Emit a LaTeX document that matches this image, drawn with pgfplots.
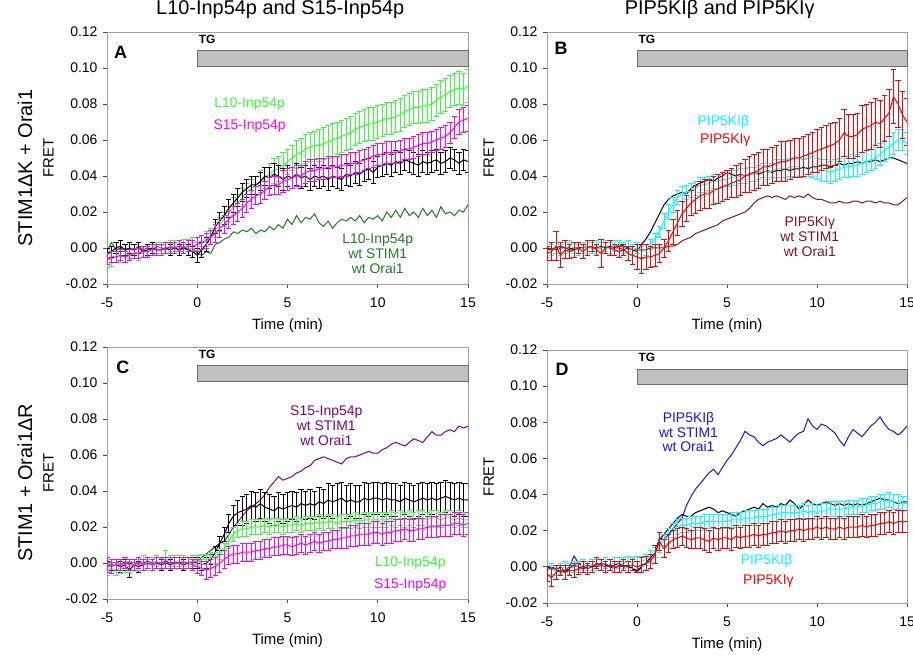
\documentclass[border=0pt]{standalone}
\usepackage{fontspec}
\setmainfont{Liberation Sans}
\usepackage{pgfplots}
\usepackage{pgfplotstable}
\pgfplotsset{compat=1.18}
\definecolor{cLime}{RGB}{51,255,51}
\definecolor{cMag}{RGB}{255,0,255}
\definecolor{cDkGreen}{RGB}{34,122,34}
\definecolor{cCyan}{RGB}{0,255,255}
\definecolor{cRed}{RGB}{255,0,0}
\definecolor{cMaroon}{RGB}{128,20,20}
\definecolor{cPurple}{RGB}{128,0,128}
\definecolor{cBlue}{RGB}{20,20,240}
\definecolor{cBarFill}{RGB}{192,192,192}
\definecolor{cBarLine}{RGB}{110,110,110}

% values in units of 0.001 FRET
\pgfplotstableread{
t k ke g ge m me d
-5.00 -3 3 -7 4 -6 3 -2
-4.75 -2 3 -6 4 -5 3 3
-4.50 0 3 -5 3 -5 3 -1
-4.25 1 3 -5 3 -4 3 0
-4.00 -1 3 -4 4 -5 3 -1
-3.75 0 3 -3 3 -4 3 0
-3.50 -1 3 -3 3 -3 3 -1
-3.25 0 3 -2 5 -3 3 1
-3.00 -2 3 -2 3 -2 3 -1
-2.75 -1 3 -1 3 -2 3 0
-2.50 0 3 -1 3 -1 3 -1
-2.25 -1 3 0 3 -1 3 1
-2.00 -1 3 0 3 -1 3 0
-1.75 0 3 0 3 0 3 -1
-1.50 -1 3 1 3 0 3 1
-1.25 0 3 1 3 0 3 0
-1.00 -1 3 1 3 1 3 -1
-0.75 0 3 2 3 0 3 1
-0.50 -1 3 2 3 1 3 -1
-0.25 -2 3 3 3 1 3 0
0.00 -4 4 3 3 2 4 -3
0.25 -1 4 4 3 3 4 -4
0.50 2 4 5 4 4 4 -2
0.75 6 4 7 4 6 4 -3
1.00 12 4 10 4 8 5 2
1.25 15 5 13 4 11 5 3
1.50 18 5 16 4 13 5 5
1.75 22 5 19 4 16 5 6
2.00 25 5 23 5 18 5 9
2.25 28 5 25 5 20 5 8
2.50 31 5 28 5 22 5 10
2.75 33 5 31 5 25 5 9
3.00 35 5 33 5 27 5 11
3.25 35 5 35 5 29 5 8
3.50 37 5 37 6 30 5 10
3.75 40 5 39 6 32 5 9
4.00 39 6 41 6 34 5 12
4.25 41 6 43 7 35 5 10
4.50 40 6 44 7 35 5 13
4.75 38 6 46 7 37 6 11
5.00 40 6 48 7 38 6 16
5.25 39 6 50 7 39 6 13
5.50 41 6 52 8 40 6 18
5.75 39 6 53 8 40 6 14
6.00 40 6 55 8 42 6 17
6.25 38 6 56 8 43 6 16
6.50 40 6 57 8 43 6 19
6.75 39 6 57 9 44 6 14
7.00 40 6 58 9 44 6 12
7.25 38 6 59 9 45 6 15
7.50 40 6 60 9 45 6 11
7.75 39 6 61 9 45 6 14
8.00 38 6 62 9 46 6 16
8.25 41 6 63 9 46 6 15
8.50 40 6 64 9 47 6 17
8.75 42 6 66 9 47 6 15
9.00 41 6 67 9 48 6 18
9.25 43 6 68 9 49 6 14
9.50 44 6 69 9 50 6 17
9.75 42 6 69 9 51 6 16
10.00 45 6 70 9 52 6 18
10.25 46 6 71 9 52 6 15
10.50 47 6 72 9 53 6 20
10.75 46 6 72 9 53 6 17
11.00 48 6 73 9 53 6 21
11.25 47 6 74 9 54 6 17
11.50 49 6 76 9 55 6 22
11.75 48 6 77 9 55 6 18
12.00 47 6 78 9 56 6 20
12.25 46 6 78 9 57 6 17
12.50 48 6 79 9 58 6 22
12.75 47 6 79 9 58 6 18
13.00 48 6 80 9 59 6 21
13.25 49 6 82 9 60 6 17
13.50 47 6 84 9 61 6 23
13.75 48 6 85 9 62 6 19
14.00 50 6 87 9 64 6 20
14.25 49 6 88 9 67 6 18
14.50 47 6 89 9 70 7 21
14.75 49 6 88 9 71 7 20
15.00 48 6 90 9 72 7 24
}\tA

\pgfplotstableread{
t k c ce r re w
-5.00 0 -2 3 -3 4 -1
-4.75 -1 -1 3 -2 5 0
-4.50 0 0 3 1 8 -1
-4.25 1 -1 3 -4 7 0
-4.00 0 0 3 -1 5 0
-3.75 0 1 3 -2 4 -1
-3.50 -1 0 3 -1 4 0
-3.25 0 -1 3 0 3 0
-3.00 0 0 3 -2 4 0
-2.75 1 1 3 0 4 1
-2.50 0 0 3 1 3 0
-2.25 0 1 3 -1 3 0
-2.00 1 0 3 -3 8 0
-1.75 0 1 3 0 3 1
-1.50 1 0 3 0 4 0
-1.25 0 1 3 -1 3 0
-1.00 2 1 3 -2 3 0
-0.75 1 0 3 -1 3 -1
-0.50 0 1 3 -3 4 0
-0.25 -1 -1 3 -4 5 -1
0.00 -2 0 3 -5 7 -1
0.25 2 -2 3 -6 8 -1
0.50 5 -1 3 -5 7 -1
0.75 9 2 3 -5 6 0
1.00 14 5 3 -4 6 0
1.25 19 9 3 -3 5 0
1.50 24 15 4 0 5 0
1.75 27 20 4 4 6 1
2.00 29 24 4 9 7 1
2.25 30 28 4 14 7 2
2.50 31 30 4 19 7 4
2.75 30 31 4 22 7 5
3.00 33 32 4 25 7 6
3.25 35 33 4 27 8 8
3.50 36 35 4 29 8 9
3.75 37 35 4 30 8 10
4.00 38 36 4 30 8 11
4.25 37 37 4 32 8 12
4.50 39 37 4 33 8 13
4.75 40 38 4 34 8 15
5.00 42 38 4 35 8 16
5.25 41 39 4 36 8 17
5.50 40 39 4 37 9 18
5.75 41 40 4 38 9 19
6.00 40 40 4 40 9 20
6.25 41 41 4 41 10 22
6.50 42 41 4 42 10 25
6.75 41 42 4 43 10 27
7.00 42 43 4 45 10 28
7.25 43 42 4 45 10 29
7.50 42 43 4 46 10 28
7.75 43 44 5 47 10 29
8.00 43 44 5 48 11 28
8.25 44 44 5 48 11 27
8.50 43 45 5 49 11 29
8.75 44 45 5 50 11 28
9.00 44 45 5 50 11 29
9.25 45 44 5 51 11 28
9.50 44 45 5 52 11 30
9.75 45 45 6 53 11 28
10.00 45 44 6 54 12 27
10.25 46 43 6 55 12 27
10.50 46 43 6 56 12 26
10.75 45 42 6 57 12 25
11.00 46 43 6 58 12 25
11.25 47 44 6 60 12 26
11.50 46 45 6 64 13 25
11.75 47 45 6 62 12 25
12.00 47 46 6 62 12 26
12.25 48 46 6 63 12 26
12.50 47 47 6 66 13 25
12.75 48 48 6 67 13 26
13.00 48 49 6 68 13 26
13.25 49 50 6 70 13 25
13.50 48 52 6 69 13 26
13.75 49 54 6 72 13 25
14.00 50 56 6 75 13 25
14.25 50 58 6 84 15 24
14.50 49 60 6 80 13 24
14.75 48 60 6 74 13 26
15.00 47 58 6 70 13 28
}\tB

\pgfplotstableread{
t p k ke g ge m me
-5.00 0 -2 3 -4 3 -1 4
-4.75 0 -1 3 -3 3 -2 4
-4.50 0 -1 3 -4 3 -1 3
-4.25 1 -2 3 -3 3 -1 3
-4.00 0 -1 3 -2 3 0 3
-3.75 0 -4 4 -2 3 -1 3
-3.50 0 -1 3 -1 3 -1 3
-3.25 0 -2 3 -1 3 0 3
-3.00 0 -1 3 0 4 -1 3
-2.75 1 0 3 -1 3 0 3
-2.50 0 -1 3 0 3 -1 3
-2.25 0 0 3 1 3 0 3
-2.00 0 -1 3 0 3 0 3
-1.75 1 0 3 2 5 0 3
-1.50 0 -1 3 1 3 0 3
-1.25 0 0 3 1 3 0 3
-1.00 0 0 3 1 3 0 3
-0.75 1 -1 3 1 3 0 3
-0.50 0 0 3 0 3 0 3
-0.25 1 0 3 1 3 -1 3
0.00 1 0 3 1 3 -2 4
0.25 3 -1 3 2 3 -3 4
0.50 5 0 3 2 3 -4 5
0.75 7 2 3 3 3 -3 5
1.00 9 6 3 3 3 -2 5
1.25 11 11 4 5 3 0 5
1.50 12 16 4 8 3 2 5
1.75 16 22 5 12 4 4 5
2.00 20 26 6 16 4 5 5
2.25 23 28 7 18 4 5 5
2.50 26 29 8 19 4 6 5
2.75 29 30 8 19 4 6 5
3.00 31 32 8 20 4 6 5
3.25 33 31 8 20 4 7 5
3.50 35 33 8 20 4 7 5
3.75 38 31 8 21 4 8 5
4.00 42 30 8 20 4 8 5
4.25 45 29 8 21 4 9 5
4.50 48 31 8 21 4 9 5
4.75 46 30 8 20 4 10 5
5.00 47 31 8 21 4 10 5
5.25 48 32 8 21 4 9 5
5.50 50 31 8 22 4 10 5
5.75 51 33 8 21 4 11 5
6.00 53 32 8 22 4 10 5
6.25 54 33 8 22 4 11 5
6.50 57 32 8 22 4 12 5
6.75 58 34 8 23 4 11 5
7.00 59 33 8 22 4 12 5
7.25 58 35 9 23 4 12 5
7.50 57 34 9 23 4 13 5
7.75 56 35 9 22 4 13 5
8.00 55 36 9 23 4 14 6
8.25 58 34 9 23 4 14 6
8.50 59 35 9 23 4 15 6
8.75 59 34 9 24 4 15 6
9.00 60 34 9 23 4 16 6
9.25 61 36 9 24 4 16 6
9.50 62 35 9 24 4 16 6
9.75 61 36 9 24 4 17 6
10.00 61 36 9 24 4 17 6
10.25 63 35 9 24 4 16 6
10.50 64 36 9 24 4 17 6
10.75 66 35 9 25 4 17 6
11.00 67 35 9 24 4 18 6
11.25 66 34 9 25 4 18 6
11.50 65 36 9 24 4 19 6
11.75 67 35 9 25 4 18 6
12.00 69 34 9 24 4 18 6
12.25 68 35 9 25 4 19 6
12.50 67 36 9 25 4 19 6
12.75 70 35 9 24 4 20 6
13.00 73 36 9 25 4 20 6
13.25 71 35 9 25 4 20 6
13.50 71 36 9 24 4 21 6
13.75 73 37 9 25 4 21 6
14.00 74 36 9 25 4 21 6
14.25 73 35 9 24 4 22 6
14.50 76 36 9 25 4 22 6
14.75 75 35 9 24 4 21 6
15.00 76 35 9 24 4 22 6
}\tC

\pgfplotstableread{
t b k c ce r re
-5.00 -2 0 -2 3 -4 4
-4.75 0 -1 -1 3 -6 5
-4.50 -1 -2 -2 3 -3 4
-4.25 -3 0 -1 3 -2 3
-4.00 -2 -3 0 3 -3 4
-3.75 0 -1 -1 3 -2 3
-3.50 6 1 0 3 -2 4
-3.25 2 0 0 3 -1 3
-3.00 0 -1 1 3 0 3
-2.75 1 0 0 3 -1 3
-2.50 0 1 1 3 0 3
-2.25 1 0 1 3 2 3
-2.00 2 1 1 3 1 3
-1.75 1 2 2 3 0 3
-1.50 0 0 1 3 1 3
-1.25 -1 1 2 3 0 3
-1.00 1 2 2 3 0 3
-0.75 0 0 2 3 1 3
-0.50 0 1 3 3 0 3
-0.25 -1 -1 2 3 1 3
0.00 -3 -2 3 3 0 3
0.25 0 0 3 3 1 4
0.50 2 2 4 3 2 4
0.75 5 5 6 3 3 4
1.00 8 8 8 3 7 5
1.25 16 15 11 3 14 5
1.50 15 18 15 3 10 5
1.75 18 21 17 4 13 5
2.00 21 24 20 4 15 5
2.25 24 27 22 4 16 5
2.50 27 29 23 4 17 5
2.75 34 28 23 4 16 5
3.00 39 28 24 4 15 5
3.25 43 30 24 4 16 6
3.50 46 31 24 4 16 6
3.75 49 32 25 4 15 6
4.00 52 33 25 4 14 6
4.25 54 32 25 4 16 6
4.50 51 30 25 4 15 6
4.75 55 31 25 4 16 6
5.00 59 30 25 4 16 6
5.25 62 29 26 4 15 6
5.50 66 28 26 4 17 6
5.75 70 30 26 4 16 6
6.00 75 31 27 4 17 6
6.25 73 32 27 4 17 6
6.50 72 33 27 4 18 6
6.75 69 32 28 4 17 6
7.00 67 35 28 4 18 6
7.25 69 33 28 4 18 6
7.50 70 34 29 4 19 6
7.75 71 33 29 4 19 6
8.00 73 35 30 4 20 6
8.25 71 34 30 4 19 6
8.50 69 37 30 4 20 6
8.75 72 35 30 4 20 6
9.00 74 32 30 4 21 6
9.25 75 34 31 4 20 6
9.50 82 37 30 4 21 6
9.75 78 35 31 4 21 6
10.00 76 34 30 4 22 6
10.25 79 35 31 4 21 6
10.50 78 36 31 4 22 6
10.75 76 35 32 4 21 6
11.00 74 34 32 4 21 6
11.25 70 35 32 4 22 6
11.50 67 34 32 4 21 6
11.75 72 35 33 4 22 6
12.00 76 34 33 4 22 6
12.25 74 35 33 4 22 6
12.50 72 34 34 4 23 6
12.75 75 35 34 4 22 6
13.00 78 36 35 4 23 6
13.25 80 37 35 4 23 6
13.50 83 38 36 4 24 6
13.75 79 37 36 4 24 6
14.00 76 37 37 4 25 6
14.25 75 36 36 4 24 6
14.50 73 35 36 4 25 6
14.75 75 36 35 4 25 6
15.00 78 36 35 4 25 6
}\tD

\pgfplotsset{
  panel/.style={
    scale only axis, width=361bp, height=252bp,
    xmin=-5, xmax=15, ymin=-20, ymax=120,
    xtick={-5,0,5,10,15}, xticklabels={-5,0,5,10,15},
    ytick={-20,0,20,40,60,80,100,120},
    yticklabels={-0.02,0.00,0.02,0.04,0.06,0.08,0.10,0.12},
    tick align=outside, xtick pos=left, ytick pos=left,
    axis line style={gray!75, line width=0.9bp},
    major tick length=4bp,
    tick style={gray!60!black, line width=0.9bp},
    ticklabel style={font=\fontsize{14}{16}\selectfont},
    xticklabel style={yshift=-6bp},
    yticklabel style={xshift=-2bp},
    xlabel={Time (min)},
    label style={font=\fontsize{15}{17}\selectfont},
    xlabel style={at={(axis description cs:0.5,0)}, anchor=center, yshift=-42bp},
    ylabel={FRET},
    ylabel style={at={(axis description cs:-0.162,0.5)}, anchor=center},
    title style={font=\fontsize{20}{22}\selectfont, at={(axis description cs:0.48,1)}, anchor=center, yshift=17bp},
    clip mode=individual,
  },
  ln/.style={line width=1bp, mark=none},
  eb/.style={line width=1bp, mark=none,
    error bars/y dir=both, error bars/y explicit,
    error bars/error bar style={line width=0.9bp},
    error bars/error mark options={rotate=90, line width=0.9bp, mark size=2.6bp}},
}

\newcommand{\tgbar}{%
  \draw[cBarLine, fill=cBarFill, line width=0.9bp] (axis cs:0,101) rectangle (axis cs:15,109.5);
  \node[font=\bfseries\fontsize{12}{14}\selectfont] at (axis cs:0.55,116) {TG};
}

\begin{document}
\begin{tikzpicture}[x=1bp,y=1bp]

% ---------------- A ----------------
\begin{axis}[panel, at={(107bp,371bp)}, title={L10-Inp54p and S15-Inp54p}]
\tgbar
\addplot[cDkGreen, ln] table[x=t,y=d]{\tA};
\addplot[cLime, eb] table[x=t,y=g,y error=ge]{\tA};
\addplot[black, eb] table[x=t,y=k,y error=ke]{\tA};
\addplot[cMag, eb] table[x=t,y=m,y error=me]{\tA};
\node[font=\bfseries\fontsize{18}{20}\selectfont] at (axis description cs:0.038,0.92) {A};
\node[text=cLime, font=\fontsize{14}{16}\selectfont] at (axis cs:2.9,80) {L10-Inp54p};
\node[text=cMag, font=\fontsize{14}{16}\selectfont] at (axis cs:2.9,68) {S15-Inp54p};
\node[text=cDkGreen, align=center, font=\fontsize{14}{15}\selectfont] at (axis cs:10,-3) {L10-Inp54p\\wt STIM1\\wt Orai1};
\end{axis}

% ---------------- B ----------------
\begin{axis}[panel, at={(547bp,371bp)}, width=360bp, title={PIP5KIβ and PIP5KIγ}]
\tgbar
\addplot[black, ln] table[x=t,y=k]{\tB};
\addplot[cMaroon, ln] table[x=t,y=w]{\tB};
\addplot[cCyan, eb] table[x=t,y=c,y error=ce]{\tB};
\addplot[cRed, eb] table[x=t,y=r,y error=re]{\tB};
\node[font=\bfseries\fontsize{18}{20}\selectfont] at (axis description cs:0.039,0.935) {B};
\node[text=cCyan, font=\fontsize{14}{16}\selectfont] at (axis cs:4.8,70) {PIP5KIβ};
\node[text=cRed, font=\fontsize{14}{16}\selectfont] at (axis cs:4.9,60) {PIP5KIγ};
\node[text=cMaroon, align=center, font=\fontsize{14}{15}\selectfont] at (axis cs:9.6,6.3) {PIP5KIγ\\wt STIM1\\wt Orai1};
\end{axis}

% ---------------- C ----------------
\begin{axis}[panel, at={(107bp,56bp)}]
\tgbar
\addplot[cPurple, ln] table[x=t,y=p]{\tC};
\addplot[black, eb] table[x=t,y=k,y error=ke]{\tC};
\addplot[cLime, eb] table[x=t,y=g,y error=ge]{\tC};
\addplot[cMag, eb] table[x=t,y=m,y error=me]{\tC};
\node[font=\bfseries\fontsize{18}{20}\selectfont] at (axis description cs:0.044,0.92) {C};
\node[text=cPurple, align=center, font=\fontsize{14}{15}\selectfont] at (axis cs:7.15,76.5) {S15-Inp54p\\wt STIM1\\wt Orai1};
\node[text=cLime, font=\fontsize{14}{16}\selectfont] at (axis cs:11.8,0) {L10-Inp54p};
\node[text=cMag, font=\fontsize{14}{16}\selectfont] at (axis cs:11.8,-12.4) {S15-Inp54p};
\end{axis}

% ---------------- D ----------------
\begin{axis}[panel, at={(547bp,52bp)}, width=360bp, height=253bp]
\tgbar
\addplot[cBlue, ln] table[x=t,y=b]{\tD};
\addplot[black, ln] table[x=t,y=k]{\tD};
\addplot[cCyan, eb] table[x=t,y=c,y error=ce]{\tD};
\addplot[cRed, eb] table[x=t,y=r,y error=re]{\tD};
\node[font=\bfseries\fontsize{18}{20}\selectfont] at (axis description cs:0.042,0.925) {D};
\node[text=cBlue, align=center, font=\fontsize{14}{15}\selectfont] at (axis cs:2.86,74.6) {PIP5KIβ\\wt STIM1\\wt Orai1};
\node[text=cCyan, font=\fontsize{14}{16}\selectfont] at (axis cs:7.2,3.3) {PIP5KIβ};
\node[text=cRed, font=\fontsize{14}{16}\selectfont] at (axis cs:7.3,-7.8) {PIP5KIγ};
\end{axis}

\node[rotate=90, font=\fontsize{20}{22}\selectfont] at (25bp,487bp) {STIM1ΔK + Orai1};
\node[rotate=90, font=\fontsize{20}{22}\selectfont] at (25bp,172bp) {STIM1 + Orai1ΔR};

\pgfresetboundingbox
\path[use as bounding box] (0bp,0bp) rectangle (913bp,655bp);
\end{tikzpicture}
\end{document}
